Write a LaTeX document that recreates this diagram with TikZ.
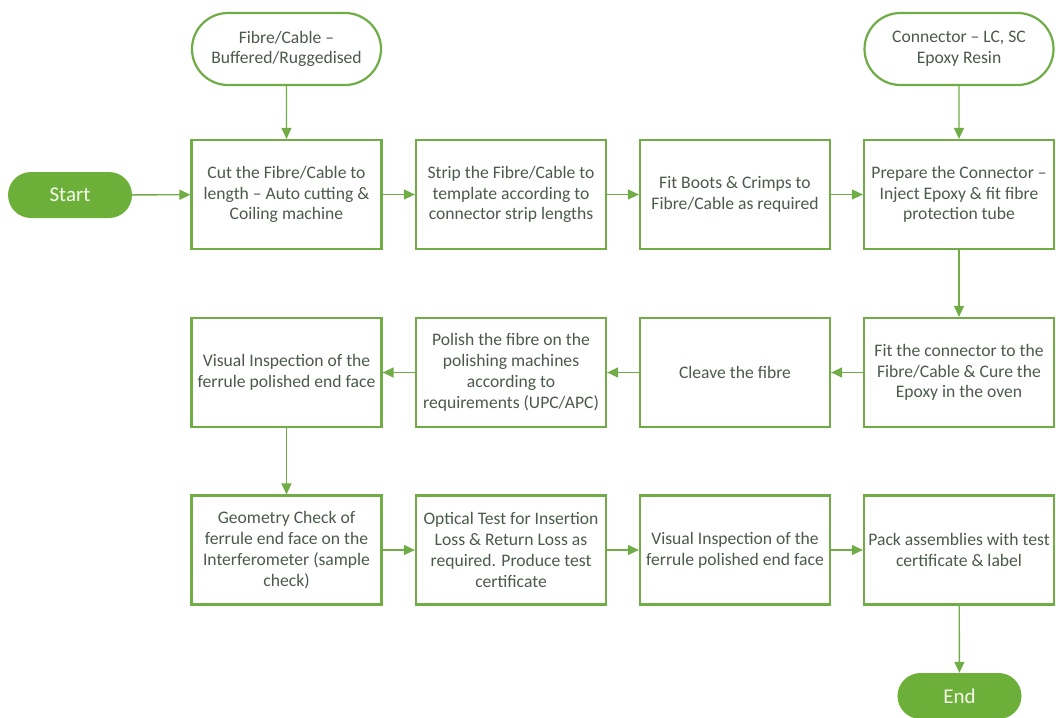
\documentclass[tikz,border=0pt]{standalone}
\usepackage{fontspec}
\setmainfont{Carlito}
\usetikzlibrary{arrows.meta,shapes.misc}
\definecolor{gborder}{RGB}{112,173,71}
\definecolor{gfill}{RGB}{108,176,58}
\definecolor{txt}{RGB}{76,90,76}
\tikzset{
  stepbox/.style={draw=gborder,line width=2.2pt,fill=white,minimum width=190pt,minimum height=109pt,
    inner sep=0pt,align=center,text=txt,font=\fontsize{17.6}{20.8}\selectfont},
  termbox/.style={draw=gborder,line width=2.2pt,fill=white,rounded rectangle,minimum width=189pt,minimum height=72pt,
    inner sep=0pt,align=center,text=txt,font=\fontsize{17.6}{20.8}\selectfont},
  endbox/.style={fill=gfill,rounded rectangle,minimum width=124pt,minimum height=46pt,
    inner sep=0pt,text={rgb,255:red,245;green,250;blue,235},font=\fontsize{21}{24}\selectfont},
  flow/.style={draw=gborder,line width=1.4pt,-{Triangle[length=11pt,width=10pt]}}
}
\begin{document}
\begin{tikzpicture}[x=1pt,y=-1pt]
\useasboundingbox (0,0) rectangle (1056,717);
% terminals
\node[termbox] (fib) at (286.5,49) {Fibre/Cable --\\Buffered/Ruggedised};
\node[termbox] (con) at (959,49) {Connector -- LC, SC\\Epoxy Resin};
\node[endbox] (start) at (70,195) {Start};
\node[endbox] (end) at (959.5,696) {End};
% row 1
\node[stepbox] (b1) at (286.5,194.5) {Cut the Fibre/Cable to\\length -- Auto cutting \&\\Coiling machine};
\node[stepbox] (b2) at (511,194.5) {Strip the Fibre/Cable to\\template according to\\connector strip lengths};
\node[stepbox] (b3) at (735,194.5) {Fit Boots \& Crimps to\\Fibre/Cable as required};
\node[stepbox] (b4) at (959,194.5) {Prepare the Connector --\\Inject Epoxy \& fit fibre\\protection tube};
% row 2
\node[stepbox] (b5) at (959,372.5) {Fit the connector to the\\Fibre/Cable \& Cure the\\Epoxy in the oven};
\node[stepbox] (b6) at (735,372.5) {Cleave the fibre};
\node[stepbox] (b7) at (511,372.5) {Polish the fibre on the\\polishing machines\\according to\\requirements (UPC/APC)};
\node[stepbox] (b8) at (286.5,372.5) {Visual Inspection of the\\ferrule polished end face};
% row 3
\node[stepbox] (b9) at (286.5,550) {Geometry Check of\\ferrule end face on the\\Interferometer (sample\\check)};
\node[stepbox] (b10) at (511,550) {Optical Test for Insertion\\Loss \& Return Loss as\\required. Produce test\\certificate};
\node[stepbox] (b11) at (735,550) {Visual Inspection of the\\ferrule polished end face};
\node[stepbox] (b12) at (959,550) {Pack assemblies with test\\certificate \& label};
% connectors
\draw[flow] (fib) -- (b1);
\draw[flow] (con) -- (b4);
\draw[flow] (start) -- (b1);
\draw[flow] (b1) -- (b2);
\draw[flow] (b2) -- (b3);
\draw[flow] (b3) -- (b4);
\draw[flow] (b4) -- (b5);
\draw[flow] (b5) -- (b6);
\draw[flow] (b6) -- (b7);
\draw[flow] (b7) -- (b8);
\draw[flow] (b8) -- (b9);
\draw[flow] (b9) -- (b10);
\draw[flow] (b10) -- (b11);
\draw[flow] (b11) -- (b12);
\draw[flow] (b12) -- (end);
\end{tikzpicture}
\end{document}
